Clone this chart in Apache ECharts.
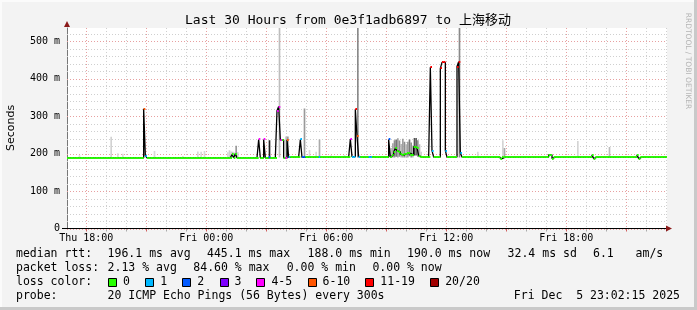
<!DOCTYPE html>
<html><head><meta charset="utf-8">
<script src="https://cdn.jsdelivr.net/npm/echarts@6/dist/echarts.min.js"></script>
<style>html,body{margin:0;padding:0;background:#f3f3f3}#c{width:697px;height:310px}</style>
</head><body><div id="c"></div>
<script>
// ---- data ----
const startHour = 17.0375;            // Thu 17:02:15 (hours since Thu 00:00)
const slotCount = 360;                // 30 h of 5-minute slots
const xTickHours = [18, 24, 30, 36, 42];
const xTickLabels = ['Thu 18:00', 'Fri 00:00', 'Fri 06:00', 'Fri 12:00', 'Fri 18:00'];
const yMax = 536;
const gridHours = [18,19,20,21,22,23,24,25,26,27,28,29,30,31,32,33,34,35,36,37,38,39,40,41,42,43,44,45,46,47];
const gridMs = [0,20,40,60,80,100,120,140,160,180,200,220,240,260,280,300,320,340,360,380,400,420,440,460,480,500,520];

// baseline median level (ms) from given slot on
const baseFromSlot = [0, 134];
const baseMedian = [189, 191];

// median deviations: slot, median (ms), loss class
const medSlot  = [46,47,99,101,115,118,121,126,127,128,129,131,132,133,140,141,142,151,170,171,172,173,174,175,181,182,193,195,196,197,198,199,200,201,202,203,204,205,206,207,208,209,210,211,218,219,224,225,226,227,234,235,236,260,289,290,291,315,316,342,343];
const medValue = [320,195,198,200,238,238,190,315,326,237,237,188,237,190,238,190,190,191,239,192,192,319,246,192,192,192,238,196,205,214,208,205,198,196,200,200,203,201,197,196,219,217,215,195,431,208,428,444,444,208,433,446,202,187,197,197,187,197,187,197,187];
const medLoss  = [5,1,0,0,4,4,2,4,4,4,0,4,5,1,1,2,2,1,4,1,1,6,5,1,1,1,2,0,0,0,0,0,0,0,0,0,0,0,0,0,0,0,0,0,6,1,6,6,6,1,6,6,1,0,0,0,0,0,0,0,0];

// smoke (ping spread): slot, low, high, shade
const smokeSlot  = [7,26,30,33,52,69,78,80,82,96,97,98,99,100,101,102,121,127,131,132,142,145,149,151,158,166,174,194,195,196,197,198,199,200,201,202,203,204,205,206,207,208,209,210,211,212,235,246,261,262,306,325];
const smokeLow   = [190,190,190,190,190,190,190,190,190,190,190,190,190,190,190,190,190,190,190,190,190,190,190,190,190,190,190,190,190,190,192,190,192,190,190,190,190,190,193,190,190,195,195,192,190,190,190,190,190,190,190,190];
const smokeHigh  = [196,245,201,200,207,194,206,205,207,204,209,206,205,203,221,204,236,536,246,246,321,210,205,238,196,196,536,215,228,236,238,241,235,226,240,232,225,232,238,230,222,242,242,236,225,205,536,205,236,215,234,218];
const smokeShade = ['#dcdcdc','#d2d2d2','#dcdcdc','#dcdcdc','#d8d8d8','#dcdcdc','#d8d8d8','#d8d8d8','#d8d8d8','#d8d8d8','#d0d0d0','#d0d0d0','#c8c8c8','#d0d0d0','#999999','#d0d0d0','#222222','#bdbdbd','#bbbbbb','#999999','#9a9a9a','#d8d8d8','#d8d8d8','#aaaaaa','#dcdcdc','#dcdcdc','#8a8a8a','#bbbbbb','#aaaaaa','#8f8f8f','#777777','#a0a0a0','#8f8f8f','#b5b5b5','#a0a0a0','#8f8f8f','#b5b5b5','#a0a0a0','#777777','#8f8f8f','#b5b5b5','#555555','#666666','#8f8f8f','#b5b5b5','#d0d0d0','#8a8a8a','#d8d8d8','#d4d4d4','#aaaaaa','#d4d4d4','#bbbbbb'];

const lossLabels = ['0','1','2','3','4-5','6-10','11-19','20/20'];
const lossColors = ['#26ff00','#00b8ff','#0059ff','#7e00ff','#ff00ff','#ff5500','#ff0000','#a10000'];

const statLine1 = [['median rtt:',16],['196.1 ms avg',107.6],['445.1 ms max',207],['188.0 ms min',307.6],['190.0 ms now',407],['32.4 ms sd',507.6],['6.1',593],['am/s',635.6]];
const statLine2 = [['packet loss:',16],['2.13 % avg',107.6],['84.60 % max',193.3],['0.00 % min',286.7],['0.00 % now',372.4]];
const probeText = '20 ICMP Echo Pings (56 Bytes) every 300s';
const stampText = 'Fri Dec  5 23:02:15 2025';
const titleText = 'Last 30 Hours from 0e3f1adb6897 to 上海移动';

// ---- build ----
const MONO = '"DejaVu Sans Mono","Noto Sans CJK SC",monospace';
const slotHour = s => startHour + s / 12;
const median = [], loss = [];
for (let s = 0; s < slotCount; s++) {
  let lvl = baseMedian[0];
  for (let k = 0; k < baseFromSlot.length; k++) if (s >= baseFromSlot[k]) lvl = baseMedian[k];
  median.push(lvl); loss.push(0);
}
medSlot.forEach((s, i) => { median[s] = medValue[i]; loss[s] = medLoss[i]; });

const stepData = [];
for (let s = 0; s <= slotCount; s++) stepData.push([slotHour(s), median[Math.min(s, slotCount - 1)]]);
const medData = median.map((v, s) => [slotHour(s), v, loss[s]]);
const smokeData = smokeSlot.map((s, i) => [slotHour(s), smokeLow[i], smokeHigh[i], i]);

const chart = echarts.init(document.getElementById('c'), null, {renderer: 'canvas'});

function txt(t, x, y, size, align, extra) {
  return Object.assign({type: 'text', x: x, y: y, silent: true,
    style: {text: t, font: size + 'px ' + MONO, fill: '#000', align: align || 'left', textAlign: align || 'left',
      verticalAlign: 'middle', textVerticalAlign: 'middle'}}, extra || {});
}

const graphics = [
  {type: 'rect', shape: {x: 694, y: 0, width: 3, height: 310}, style: {fill: '#c9c9c9'}, silent: true},
  {type: 'rect', shape: {x: 0, y: 307, width: 697, height: 3}, style: {fill: '#c9c9c9'}, silent: true},
  {type: 'rect', shape: {x: 0, y: 0, width: 694, height: 2}, style: {fill: '#fbfbfb'}, silent: true},
  {type: 'rect', shape: {x: 0, y: 0, width: 2, height: 307}, style: {fill: '#fbfbfb'}, silent: true},
  txt(titleText, 348, 21, 13, 'center'),
  {type: 'text', x: 11, y: 128, rotation: Math.PI / 2, silent: true,
    style: {text: 'Seconds', font: '11px "DejaVu Sans"', fill: '#000', align: 'center', textAlign: 'center', verticalAlign: 'middle', textVerticalAlign: 'middle'}},
  {type: 'text', x: 687.5, y: 61, rotation: -Math.PI / 2, silent: true,
    style: {text: 'RRDTOOL / TOBI OETIKER', font: '7.5px "DejaVu Sans"', fill: '#b4b4b4', align: 'center', textAlign: 'center', verticalAlign: 'middle', textVerticalAlign: 'middle'}},
  {type: 'line', shape: {x1: 62, y1: 228.5, x2: 667, y2: 228.5}, style: {stroke: '#000', lineWidth: 1}, silent: true, z: 10},
  {type: 'polygon', shape: {points: [[666, 225.5], [672, 228.5], [666, 231.5]]}, style: {fill: '#8b1a1a'}, silent: true, z: 10},
  {type: 'polygon', shape: {points: [[64, 27], [67, 21], [70, 27]]}, style: {fill: '#8b1a1a'}, silent: true, z: 10}
];
statLine1.forEach(p => graphics.push(txt(p[0], p[1], 254, 11.5)));
statLine2.forEach(p => graphics.push(txt(p[0], p[1], 268, 11.5)));
graphics.push(txt('loss color:', 16, 282, 11.5));
const boxX = [108, 145.3, 182.2, 219.6, 256.4, 307.6, 365.3, 430.2];
lossLabels.forEach((l, i) => {
  graphics.push({type: 'rect', shape: {x: Math.round(boxX[i]) + 0.5, y: 278.5, width: 8, height: 8},
    style: {fill: lossColors[i], stroke: '#000', lineWidth: 1}, silent: true});
  graphics.push(txt(l, boxX[i] + 15, 282, 11.5));
});
graphics.push(txt('probe:', 16, 296, 11.5));
graphics.push(txt(probeText, 107.6, 296, 11.5));
graphics.push(txt(stampText, 680, 296, 11.5, 'right'));

const option = {
  backgroundColor: '#f3f3f3',
  animation: false,
  grid: {left: 67, top: 28, width: 600, height: 200.5, show: true, backgroundColor: '#ffffff', borderWidth: 0},
  xAxis: {
    type: 'value', min: startHour, max: startHour + slotCount / 12,
    axisLine: {show: true, lineStyle: {color: '#000', width: 1}},
    axisTick: {show: false}, splitLine: {show: false},
    axisLabel: {customValues: xTickHours, formatter: v => { const i = xTickHours.indexOf(v); return i >= 0 ? xTickLabels[i] : ''; },
      fontFamily: MONO, fontSize: 10, color: '#000', margin: 5}
  },
  yAxis: {
    type: 'value', min: 0, max: yMax, interval: 100,
    axisLine: {show: true, lineStyle: {color: '#777', width: 1}},
    axisTick: {show: false}, splitLine: {show: false},
    axisLabel: {formatter: v => (v % 100 !== 0 ? '' : (v === 0 ? '0' : v + ' m')), showMaxLabel: false,
      fontFamily: MONO, fontSize: 10, color: '#000', margin: 7}
  },
  series: [
    { type: 'custom', z: 1, silent: true, clip: false, data: gridHours.map(h => [h, 0]), encode: {x: 0, y: 1},
      renderItem: (p, api) => {
        const h = api.value(0);
        const top = api.coord([h, yMax]), bot = api.coord([h, 0]);
        const x = Math.round(top[0]) + 0.5;
        const major = h % 3 === 0;
        return {type: 'group', children: [
          {type: 'line', shape: {x1: x, y1: top[1], x2: x, y2: bot[1]},
            style: {stroke: major ? '#e7a0a0' : '#cfcfcf', lineWidth: 1, lineDash: [1, 2]}},
          {type: 'line', shape: {x1: x, y1: bot[1], x2: x, y2: bot[1] + 3},
            style: {stroke: major ? '#d06060' : '#aaaaaa', lineWidth: 1}}
        ]};
      }},
    { type: 'custom', z: 1, silent: true, clip: false, data: gridMs.map(v => [startHour, v]), encode: {x: 0, y: 1},
      renderItem: (p, api) => {
        const v = api.value(1);
        const a = api.coord([startHour, v]), b = api.coord([startHour + slotCount / 12, v]);
        const y = Math.round(a[1]) + 0.5;
        return {type: 'line', shape: {x1: a[0], y1: y, x2: b[0], y2: y},
          style: {stroke: v % 100 === 0 ? '#e7a0a0' : '#cfcfcf', lineWidth: 1, lineDash: [1, 2]}};
      }},
    { type: 'custom', z: 2, silent: true, clip: true, data: smokeData, encode: {x: 0, y: [1, 2]},
      renderItem: (p, api) => {
        const h = api.value(0);
        const lo = api.coord([h, api.value(1)]), hi = api.coord([h, api.value(2)]);
        const r = api.coord([h + 1 / 12, api.value(1)]);
        return {type: 'rect', shape: {x: lo[0], y: hi[1], width: r[0] - lo[0], height: lo[1] - hi[1]},
          style: {fill: smokeShade[api.value(3)]}};
      }},
    { type: 'line', z: 3, silent: true, data: stepData, step: 'end', showSymbol: false, symbol: 'none',
      lineStyle: {color: '#000', width: 1.3}, clip: true },
    { type: 'custom', z: 4, silent: true, clip: true, data: medData, encode: {x: 0, y: 1},
      renderItem: (p, api) => {
        const h = api.value(0), v = api.value(1);
        const a = api.coord([h, v]), b = api.coord([h + 1 / 12, v]);
        const y = Math.round(a[1]) - 1;
        return {type: 'rect', shape: {x: a[0], y: y, width: b[0] - a[0], height: 2},
          style: {fill: lossColors[api.value(2)]}};
      }}
  ],
  graphic: graphics
};
chart.setOption(option);
</script></body></html>
